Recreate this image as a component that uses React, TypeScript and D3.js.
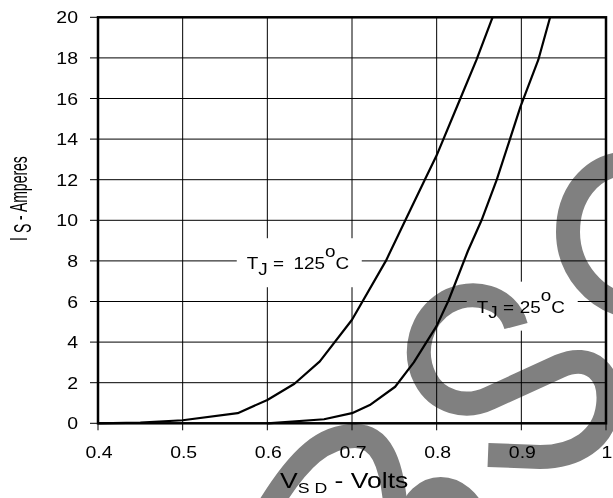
import React from 'react';
import * as d3 from 'd3';

// ---- data ----
const vTicks = [0.4, 0.5, 0.6, 0.7, 0.8, 0.9, 1.0];
const vTickLabels = ['0.4', '0.5', '0.6', '0.7', '0.8', '0.9', '1'];
const iTicks = [0, 2, 4, 6, 8, 10, 12, 14, 16, 18, 20];
const iTickLabels = ['0', '2', '4', '6', '8', '10', '12', '14', '16', '18', '20'];

// T_J = 125 C
const v125 = [0.40, 0.45, 0.50, 0.565, 0.60, 0.632, 0.662, 0.70, 0.74, 0.763, 0.786, 0.80, 0.828, 0.847, 0.866];
const i125 = [0.0, 0.03, 0.15, 0.5, 1.15, 1.95, 3.05, 5.1, 8.0, 10.0, 12.0, 13.2, 16.0, 17.9, 20.0];

// T_J = 25 C
const v25 = [0.60, 0.667, 0.70, 0.721, 0.751, 0.773, 0.80, 0.814, 0.837, 0.853, 0.871, 0.899, 0.92, 0.934];
const i25 = [0.0, 0.2, 0.5, 0.9, 1.8, 3.0, 4.8, 6.05, 8.5, 10.0, 12.0, 15.6, 17.9, 20.0];

// annotation anchors (data coordinates of text start / baseline)
const annTemps = ['125', '25'];
const annV = [0.5757, 0.8473];
const annI = [7.59, 5.45];
const annBoxW = [125, 111];

// decorative watermark (pixel paths)
const watermarkPaths = [
  'M 628,163 C 588,165 568,198 568,232 C 568,270 596,300 628,306',
  'M 516,326 C 508,296 472,288 447,302 C 420,318 412,352 425,378 C 437,402 465,410 490,398 L 560,366 C 590,353 612,372 608,406 C 604,440 575,457 540,457 L 488,455',
  'M 266,512 C 300,455 325,436 355,436 C 380,436 392,460 396,512',
  'M 408,522 C 418,478 462,478 478,522',
];

const W = 613;
const H = 498;
const SX = 1.18;
const FONT = '"Liberation Sans", Arial, sans-serif';

export default function App() {
  const x = d3.scaleLinear().domain([0.4, 1.0]).range([98, 606]);
  const y = d3.scaleLinear().domain([0, 20]).range([423.3, 17.3]);
  const line = d3
    .line<[number, number]>()
    .x((d) => x(d[0]))
    .y((d) => y(d[1]));
  const d125 = line(v125.map((v, k) => [v, i125[k]] as [number, number])) || '';
  const d25 = line(v25.map((v, k) => [v, i25[k]] as [number, number])) || '';

  const [x0, x1] = x.range();
  const [y0, y1] = y.range();

  return (
    <svg
      width={W}
      height={H}
      viewBox={`0 0 ${W} ${H}`}
      style={{ position: 'absolute', left: 0, top: 0, display: 'block' }}
      fontFamily={FONT}
    >
      <rect x={0} y={0} width={W} height={H} fill="#fff" />

      {/* grid */}
      <g stroke="#000" strokeWidth={1}>
        {vTicks.slice(1, -1).map((t) => (
          <line key={'vg' + t} x1={x(t)} x2={x(t)} y1={y1} y2={y0} />
        ))}
        {iTicks.slice(1, -1).map((t) => (
          <line key={'hg' + t} x1={x0} x2={x1} y1={y(t)} y2={y(t)} />
        ))}
      </g>

      {/* ticks */}
      <g stroke="#000" strokeWidth={1}>
        {iTicks.map((t) => (
          <line key={'yt' + t} x1={90} x2={x0} y1={y(t)} y2={y(t)} />
        ))}
        {vTicks.map((t) => (
          <line key={'xt' + t} x1={x(t)} x2={x(t)} y1={y0} y2={y0 + 7} />
        ))}
      </g>

      {/* annotation boxes */}
      {annTemps.map((t, k) => (
        <rect
          key={'box' + t}
          x={x(annV[k]) - 10}
          y={y(annI[k]) - 31}
          width={annBoxW[k]}
          height={49}
          fill="#fff"
        />
      ))}

      {/* curves */}
      <path d={d125} fill="none" stroke="#000" strokeWidth={2.2} strokeLinejoin="round" />
      <path d={d25} fill="none" stroke="#000" strokeWidth={2.2} strokeLinejoin="round" />

      {/* frame */}
      <rect x={x0} y={y1} width={x1 - x0} height={y0 - y1} fill="none" stroke="#000" strokeWidth={2.5} />

      {/* y tick labels */}
      {iTicks.map((t, k) => (
        <text
          key={'yl' + t}
          transform={`translate(78,${y(t) + 6}) scale(${SX},1)`}
          textAnchor="end"
          fontSize={16.5}
          fill="#000"
        >
          {iTickLabels[k]}
        </text>
      ))}

      {/* x tick labels */}
      {vTicks.map((t, k) => (
        <text
          key={'xl' + t}
          transform={`translate(${x(t) + 1},458) scale(${SX},1)`}
          textAnchor="middle"
          fontSize={16.5}
          fill="#000"
        >
          {vTickLabels[k]}
        </text>
      ))}

      {/* annotations */}
      {annTemps.map((t, k) => (
        <text
          key={'ann' + t}
          transform={`translate(${x(annV[k])},${y(annI[k])}) scale(${SX},1)`}
          fontSize={16}
          fill="#000"
        >
          T
          <tspan dy={5.5}>J</tspan>
          <tspan dy={-5.5}>{' ='}</tspan>
          <tspan dx={k === 0 ? 8 : 5}>{t}</tspan>
          <tspan dy={-12}>o</tspan>
          <tspan dy={12}>C</tspan>
        </text>
      ))}

      {/* axis titles */}
      <text transform={`translate(280,488) scale(${SX},1)`} fontSize={22.5} fill="#000">
        V
        <tspan fontSize={15} dy={5}>
          {'S D'}
        </tspan>
        <tspan dy={-5}>{' - Volts'}</tspan>
      </text>
      <text transform={`translate(26.5,241) scale(1.75,1) rotate(-90)`} fontSize={14} fill="#000">
        I
        <tspan dx={4} dy={2.5}>
          S
        </tspan>
        <tspan dy={-2.5}>{' - Amperes'}</tspan>
      </text>

      {/* watermark */}
      <g style={{ mixBlendMode: 'multiply' }} fill="none" stroke="#808080" strokeWidth={24}>
        {watermarkPaths.map((p, k) => (
          <path key={'wm' + k} d={p} />
        ))}
      </g>
    </svg>
  );
}
